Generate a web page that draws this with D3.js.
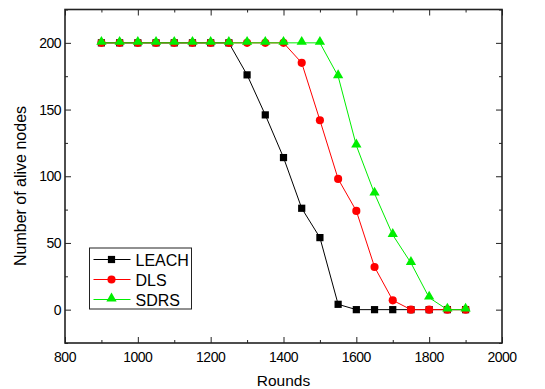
<!DOCTYPE html>
<html>
<head>
<meta charset="utf-8">
<script src="https://cdn.jsdelivr.net/npm/d3@7"></script>
<style>
  body { margin: 0; background: #fff; }
  text { font-family: Arial, "Liberation Sans", sans-serif; fill: #000; }
</style>
</head>
<body>
<script>
// rounds on the x axis
var rounds = [900, 950, 1000, 1050, 1100, 1150, 1200, 1250, 1300, 1350, 1400,
  1450, 1500, 1550, 1600, 1650, 1700, 1750, 1800, 1850, 1900];

var leach = [200, 200, 200, 200, 200, 200, 200, 200, 176, 146, 114,
  76, 54, 4, 0, 0, 0, 0, 0, 0, 0];
var dls = [200, 200, 200, 200, 200, 200, 200, 200, 200, 200, 200,
  185, 142, 98, 74, 32, 7, 0, 0, 0, 0];
var sdrs = [200, 200, 200, 200, 200, 200, 200, 200, 200, 200, 200,
  200, 200, 175, 123, 87, 56, 35, 9, 0, 0];

var seriesNames = ['LEACH', 'DLS', 'SDRS'];
var xTicks = [800, 1000, 1200, 1400, 1600, 1800, 2000];
var yTicks = [0, 50, 100, 150, 200];

var w = 545,
    h = 389;
// plot box edges (window.top is taken, so no bare "top")
var boxL = 65, boxR = 502, boxT = 9.5, boxB = 343;

var svg = d3.select('body').append('svg')
  .attr('width', w)
  .attr('height', h);

var x = d3.scaleLinear().domain([800, 2000]).range([boxL, boxR]);
var y = d3.scaleLinear().domain([-25, 225]).range([boxB, boxT]);

var series = [
  { name: seriesNames[0], values: leach, color: '#000000', shape: d3.symbolSquare, size: 52 },
  { name: seriesNames[1], values: dls, color: '#ff0000', shape: d3.symbolCircle, size: 52 },
  { name: seriesNames[2], values: sdrs, color: '#00ee00', shape: d3.symbolTriangle, size: 46 }
];

// ticks, all pointing inward, on all four sides
var minorX = d3.range(900, 2000, 200);
var minorY = d3.range(-25, 226, 50);

function tickAxis(axisFn, scale, vals, size, transform) {
  var g = svg.append('g')
    .attr('transform', transform)
    .call(axisFn(scale).tickValues(vals).tickSize(size).tickFormat(''));
  g.select('.domain').remove();
  g.selectAll('line').attr('stroke', '#222').attr('stroke-width', 1);
  return g;
}

tickAxis(d3.axisTop, x, xTicks, 6, translation(0, boxB));
tickAxis(d3.axisTop, x, minorX, 3, translation(0, boxB));
tickAxis(d3.axisBottom, x, xTicks, 6, translation(0, boxT));
tickAxis(d3.axisBottom, x, minorX, 3, translation(0, boxT));
tickAxis(d3.axisRight, y, yTicks, 6, translation(boxL, 0));
tickAxis(d3.axisRight, y, minorY, 3, translation(boxL, 0));
tickAxis(d3.axisLeft, y, yTicks, 6, translation(boxR, 0));
tickAxis(d3.axisLeft, y, minorY, 3, translation(boxR, 0));

// tick labels
svg.append('g').selectAll('.xlabel')
  .data(xTicks)
  .enter()
  .append('text')
    .attr('x', function(d) { return x(d); })
    .attr('y', 362)
    .attr('text-anchor', 'middle')
    .style('font-size', '14px')
    .style('letter-spacing', '-0.5px')
    .text(function(d) { return d; });

svg.append('g').selectAll('.ylabel')
  .data(yTicks)
  .enter()
  .append('text')
    .attr('x', 61)
    .attr('y', function(d) { return y(d) + 5; })
    .attr('text-anchor', 'end')
    .style('font-size', '14px')
    .style('letter-spacing', '-0.5px')
    .text(function(d) { return d; });

// frame
svg.append('rect')
  .attr('x', boxL)
  .attr('y', boxT)
  .attr('width', boxR - boxL)
  .attr('height', boxB - boxT)
  .attr('fill', 'none')
  .attr('stroke', '#222')
  .attr('stroke-width', 1.6);

// axis titles
svg.append('text')
  .attr('x', (boxL + boxR) / 2)
  .attr('y', 386)
  .attr('text-anchor', 'middle')
  .style('font-size', '15.5px')
  .text('Rounds');

svg.append('text')
  .attr('transform', 'translate(26,186) rotate(-90)')
  .attr('text-anchor', 'middle')
  .style('font-size', '16px')
  .text('Number of alive nodes');

// lines and markers
var line = d3.line()
  .x(function(d, i) { return x(rounds[i]); })
  .y(function(d) { return y(d); });

series.forEach(function(s) {
  var g = svg.append('g');
  g.append('path')
    .attr('d', line(s.values))
    .attr('fill', 'none')
    .attr('stroke', s.color)
    .attr('stroke-width', 1);
  g.selectAll('.marker')
    .data(s.values)
    .enter()
    .append('path')
      .attr('d', d3.symbol().type(s.shape).size(s.size))
      .attr('transform', function(d, i) {
        return translation(x(rounds[i]), y(d) + (s.shape === d3.symbolTriangle ? -1 : 0));
      })
      .attr('fill', s.color);
});

// legend
var legend = svg.append('g').attr('transform', translation(89.5, 248));
legend.append('rect')
  .attr('width', 102)
  .attr('height', 61)
  .attr('fill', '#fff')
  .attr('stroke', '#222')
  .attr('stroke-width', 1);

var items = legend.selectAll('.item')
  .data(series)
  .enter()
  .append('g')
    .attr('transform', function(d, i) { return translation(0, 11.5 + i * 20); });

items.append('line')
  .attr('x1', 4).attr('x2', 41)
  .attr('stroke', function(d) { return d.color; })
  .attr('stroke-width', 1);
items.append('path')
  .attr('d', function(d) { return d3.symbol().type(d.shape).size(d.size)(); })
  .attr('transform', function(d) { return translation(22, d.shape === d3.symbolTriangle ? -1 : 0); })
  .attr('fill', function(d) { return d.color; });
items.append('text')
  .attr('x', 46)
  .attr('y', 6)
  .style('font-size', '16px')
  .text(function(d) { return d.name; });

function translation(a, b) {
  return 'translate(' + a + ',' + b + ')';
}
</script>
</body>
</html>
